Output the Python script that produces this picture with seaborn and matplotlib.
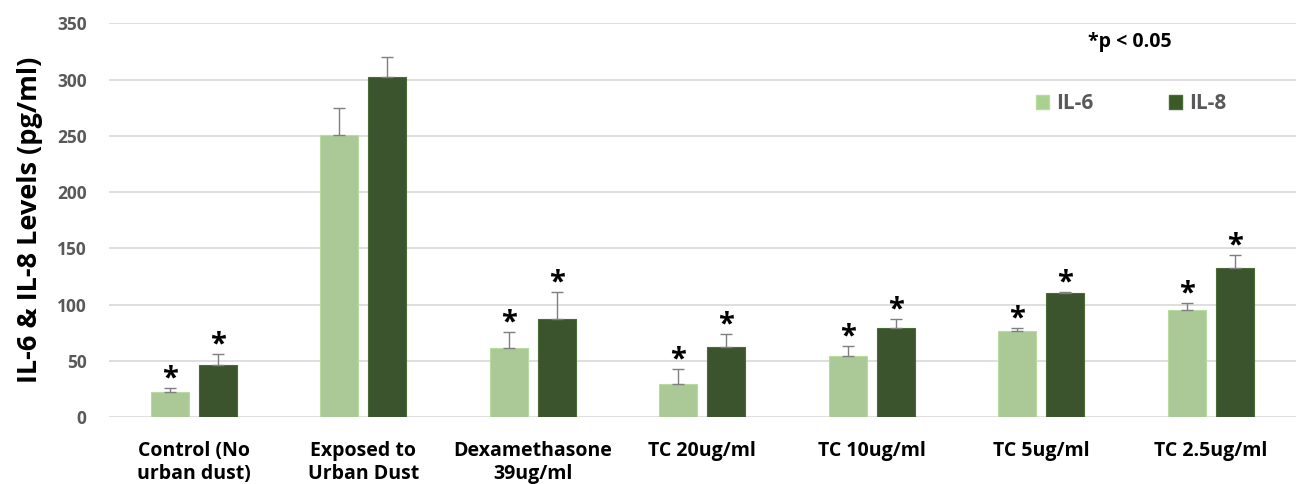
import matplotlib
matplotlib.use("Agg")
import matplotlib.pyplot as plt
import seaborn as sns
import pandas as pd
import numpy as np
from matplotlib.patches import Patch

categories = ["Control (No\nurban dust)", "Exposed to\nUrban Dust", "Dexamethasone\n39ug/ml",
              "TC 20ug/ml", "TC 10ug/ml", "TC 5ug/ml", "TC 2.5ug/ml"]
il6 = [22.2, 251, 61, 29, 54.3, 76.2, 95.5]
il8 = [46.5, 302, 87, 62.3, 79.5, 110, 132.3]
il6_err = [3.8, 23.3, 14.3, 13.4, 9.1, 3.0, 5.6]
il8_err = [9.8, 18.0, 24.5, 11.3, 7.7, 1.2, 11.8]
il6_sig = [True, False, True, True, True, True, True]
il8_sig = [True, False, True, True, True, True, True]
series = ["IL-6", "IL-8"]
colors = ["#a9d18e", "#3b5a26"]
edge_colors = ["#b8dba0", "#4a6b34"]

df = pd.DataFrame({
    "Group": categories * 2,
    "Cytokine": [series[0]] * len(categories) + [series[1]] * len(categories),
    "Level": il6 + il8,
})

sns.set_theme(style="white")
plt.rcParams["font.family"] = ["Open Sans", "DejaVu Sans"]

fig = plt.figure(figsize=(12.97, 4.84), dpi=100)
ax = fig.add_axes([0.084, 0.1384, 0.915, 0.8134])

sns.barplot(data=df, x="Group", y="Level", hue="Cytokine", order=categories,
            hue_order=series, palette=colors, width=0.566, gap=0.21,
            errorbar=None, ax=ax, legend=False, linewidth=0.8)

errs = [il6_err, il8_err]
vals = [il6, il8]
sigs = [il6_sig, il8_sig]
for s in range(2):
    conts = ax.containers[s]
    for i, patch in enumerate(conts.patches):
        patch.set_edgecolor(edge_colors[s])
        xc = patch.get_x() + patch.get_width() / 2
        v = vals[s][i]
        e = errs[s][i]
        ax.errorbar(xc, v, yerr=[[0], [e]], fmt="none", ecolor="#7f7f7f",
                    elinewidth=1.0, capsize=4, capthick=1.0, zorder=3)
        if sigs[s][i]:
            ax.text(xc, v + e - 5, "*", ha="center", va="bottom",
                    fontsize=21, fontweight="bold", color="black")

ax.set_ylim(0, 350)
ax.set_yticks(np.arange(0, 351, 50))
ax.set_xlim(-0.5, len(categories) - 0.5)
ax.grid(axis="y", color="#d9d9d9", linewidth=1.2)
ax.set_axisbelow(True)
for sp in ax.spines.values():
    sp.set_visible(False)
ax.tick_params(axis="both", length=0)
ax.tick_params(axis="y", labelsize=12.5, labelcolor="#595959", pad=16)
ax.tick_params(axis="x", labelsize=14, labelcolor="black", pad=17)
for lbl in ax.get_yticklabels():
    lbl.set_fontweight("bold")
for lbl in ax.get_xticklabels():
    lbl.set_fontweight("bold")
    lbl.set_linespacing(1.25)
ax.set_xlabel("")
ax.set_ylabel("IL-6 & IL-8 Levels (pg/ml)", fontsize=19.5, fontweight="bold",
              color="black", labelpad=10)

handles = [Patch(facecolor=colors[0], edgecolor=edge_colors[0], label=series[0]),
           Patch(facecolor=colors[1], edgecolor=edge_colors[1], label=series[1])]
leg = ax.legend(handles=handles, loc="upper left", bbox_to_anchor=(0.765, 0.87),
                ncol=2, frameon=False, columnspacing=3.6, handlelength=0.65,
                handleheight=0.65, handletextpad=0.35,
                prop={"weight": "bold", "size": 15})
for t in leg.get_texts():
    t.set_color("#595959")

ax.text(0.8605, 0.952, "*p < 0.05", transform=ax.transAxes, ha="center",
        va="center", fontsize=14, fontweight="bold", color="black")

fig.savefig("out.png", dpi=100)
